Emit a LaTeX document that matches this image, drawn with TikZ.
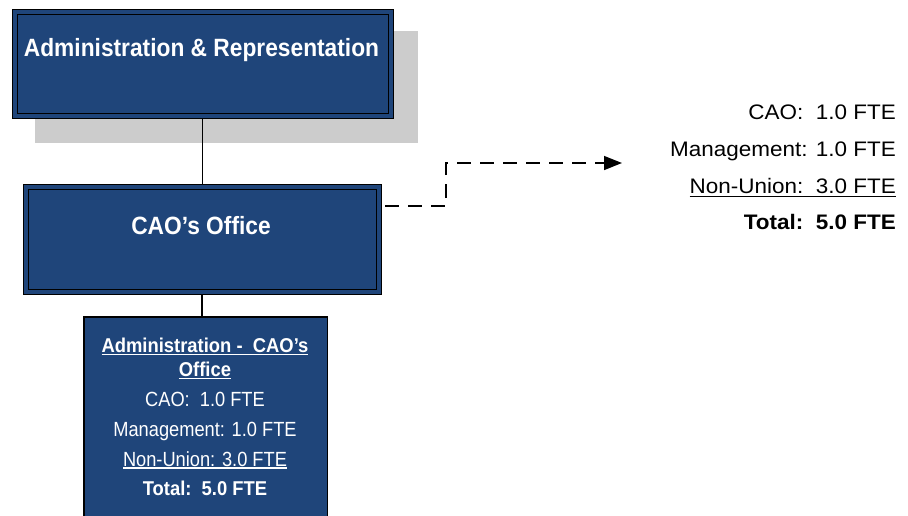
\documentclass[tikz,border=0pt]{standalone}
\usepackage{fontspec}
\setmainfont{Liberation Sans}
\newfontfamily\boxfont[FakeStretch=0.91]{Liberation Sans}
\newfontfamily\smallfont[FakeStretch=0.89]{Liberation Sans}
\newfontfamily\headfont[FakeStretch=0.92]{Liberation Sans}
\newfontfamily\sidefont[FakeStretch=1.07]{Liberation Sans}
\usetikzlibrary{arrows.meta,backgrounds}
\definecolor{boxblue}{RGB}{31,69,122}
\definecolor{shadowgray}{RGB}{204,204,204}
\newcommand\myul[2]{\setbox0\hbox{#2}\rlap{\rule[-#1]{\wd0}{1.2pt}}\box0}
\begin{document}
\begin{tikzpicture}[x=1pt,y=-1pt,
  dbox/.style={draw=black, line width=1pt, double=boxblue, double distance=4pt,
    fill=boxblue, inner sep=0pt, outer sep=0pt},
  sbox/.style={draw=black, line width=1.5pt, fill=boxblue, inner sep=0pt, outer sep=0pt},
  titletext/.style={anchor=base, text=white, inner sep=0pt,
    font=\boxfont\fontsize{25}{28}\selectfont\bfseries},
  boxtext/.style={anchor=base, text=white, inner sep=0pt,
    font=\smallfont\fontsize{20.5}{24}\selectfont},
  boxhead/.style={anchor=base, text=white, inner sep=0pt,
    font=\headfont\fontsize{20}{24}\selectfont\bfseries},
  sidetext/.style={anchor=base east, inner sep=0pt,
    font=\sidefont\fontsize{21}{25}\selectfont},
  conn/.style={draw=black, line width=1.5pt},
  dashconn/.style={draw=black, line width=1.5pt, dash pattern=on 14pt off 9pt,
    -{Triangle[length=18pt,width=14pt]}}
]
\useasboundingbox (0,0) rectangle (908,515);
\clip (0,0) rectangle (908,515);

% boxes
\node[dbox, minimum width=376, minimum height=104] (a) at (202.5,63.5) {};
\node[dbox, minimum width=353, minimum height=105] (b) at (202,239) {};
\node[sbox, minimum width=243.5, minimum height=214, anchor=north] (c) at (205.5,316.75) {};

% box texts
\node[titletext] (at) at (201.5,56) {Administration \& Representation};
\node[titletext] (bt) at (201,234.3) {CAO’s Office};

\node[boxhead] (c1) at (205,352.7) {\myul{2.5pt}{Administration -\ \ CAO’s}};
\node[boxhead] (c2) at (205,376.5) {\myul{2.5pt}{Office}};
\node[boxtext] (c3) at (205,406.5) {CAO:\ \ 1.0 FTE};
\node[boxtext] (c4) at (205,436) {Management: 1.0 FTE};
\node[boxtext] (c5) at (205,466) {\myul{2.5pt}{Non-Union: 3.0 FTE}};
\node[boxtext, font=\headfont\fontsize{20}{24}\selectfont\bfseries] (c6) at (205,495) {Total:\ \ 5.0 FTE};

% side text
\node[sidetext] (s1) at (896,119.5) {CAO:\ \ 1.0 FTE};
\node[sidetext] (s2) at (896,156.5) {Management: 1.0 FTE};
\node[sidetext] (s3) at (896,193) {\myul{4pt}{Non-Union:\ \ 3.0 FTE}};
\node[sidetext, font=\sidefont\fontsize{21}{25}\selectfont\bfseries] (s4) at (896,229) {Total:\ \ 5.0 FTE};

% shadow and connectors behind boxes
\begin{scope}[on background layer]
  \fill[shadowgray] (35,31) rectangle (418,143);
  \draw[conn] (a.south) -- (a.south |- b.north);
  \draw[conn] (b.south) -- (b.south |- c.north);
\end{scope}

\coordinate (bend) at (446,163);
\coordinate (tip) at (622,163);
\draw[dashconn] (b.east) ++(6.5,-33) -| (bend) -- (tip);
\end{tikzpicture}
\end{document}
